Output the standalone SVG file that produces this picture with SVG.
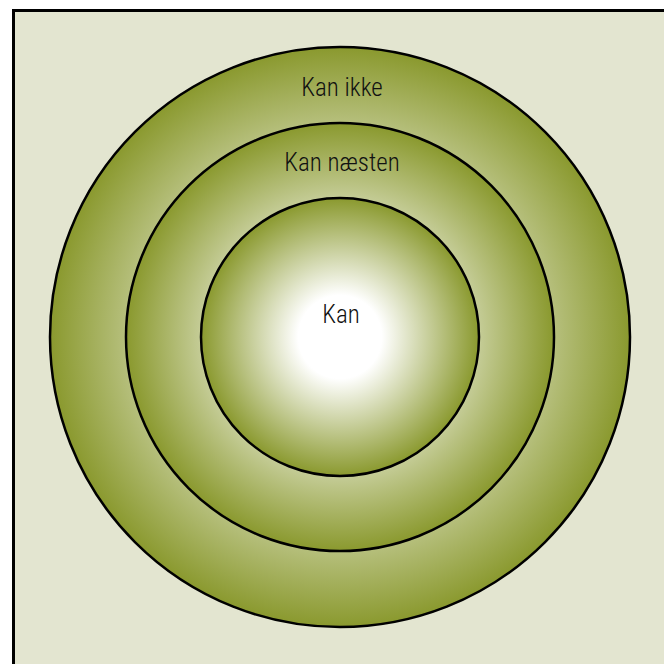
<svg xmlns="http://www.w3.org/2000/svg" width="664" height="664" viewBox="0 0 664 664">
  <defs>
    <radialGradient id="g" cx="0.5" cy="0.5" r="0.5">
      <stop offset="0.3" stop-color="#ffffff"/>
      <stop offset="1" stop-color="#8a992e"/>
    </radialGradient>
    <style>
      .ring { fill: url(#g); stroke: #000; stroke-width: 2.5; }
      .lbl { font-family: "Roboto Condensed", "Liberation Sans Narrow", "Liberation Sans", sans-serif; font-size: 25px; font-weight: 300; fill: #111; text-anchor: middle; font-stretch: condensed; }
    </style>
  </defs>
  <rect x="13.5" y="10.5" width="700" height="700" fill="#e3e5d0" stroke="#000" stroke-width="3"/>
  <g id="kan-ikke">
    <circle class="ring" cx="340" cy="337" r="290"/>
    <text class="lbl" x="342" y="96">Kan ikke</text>
  </g>
  <g id="kan-naesten">
    <circle class="ring" cx="340" cy="337" r="214"/>
    <text class="lbl" x="342" y="171">Kan næsten</text>
  </g>
  <g id="kan">
    <circle class="ring" cx="340" cy="337" r="139"/>
    <text class="lbl" x="341" y="323">Kan</text>
  </g>
  <g id="connectors"/>
</svg>
